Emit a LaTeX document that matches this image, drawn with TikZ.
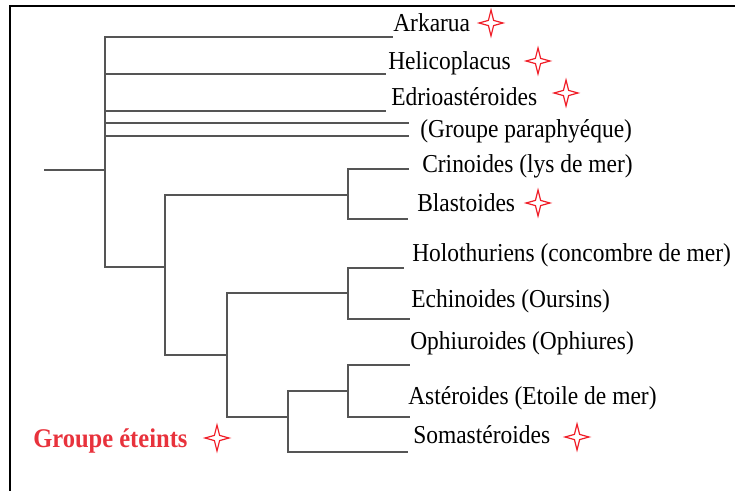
\documentclass[tikz,border=0pt]{standalone}
\usepackage{fontspec}
\usepackage{graphicx}
\setmainfont{Liberation Serif}
\definecolor{branch}{RGB}{85,85,85}
\definecolor{starred}{RGB}{240,30,40}
\definecolor{grpred}{RGB}{232,50,60}
\newcommand{\tallt}[1]{\scalebox{1}[1.1]{#1}}
\begin{document}
\begin{tikzpicture}[x=0.75pt,y=-0.75pt,
  br/.style={draw=branch,line width=1.5pt,line cap=rect},
  lbl/.style={anchor=base west,inner sep=0pt,font=\fontsize{17.6}{20}\selectfont},
  xstar/.pic={\draw[starred,line width=0.9pt,line join=miter]
     (0,-13) -- (2.6,-2.6) -- (12,0) -- (2.6,2.6) -- (0,13) -- (-2.6,2.6) -- (-12,0) -- (-2.6,-2.6) -- cycle;}]
\useasboundingbox (0,0) rectangle (735,491);
% frame
\draw[black,line width=2.2pt] (10,491) -- (10,6) -- (735,6);
% junctions
\coordinate (root) at (45,170);
\coordinate (r0) at (105,170);
\coordinate (rt) at (105,37);
\coordinate (rb) at (105,267);
\coordinate (h1) at (105,74);
\coordinate (h2) at (105,111);
\coordinate (h3) at (105,123);
\coordinate (h4) at (105,136);
\coordinate (aT) at (165,267);
\coordinate (aTop) at (165,195);
\coordinate (aBot) at (165,355);
\coordinate (cb) at (348,195);
\coordinate (cbT) at (348,169);
\coordinate (cbB) at (348,219);
\coordinate (eA) at (227,355);
\coordinate (eTop) at (227,293);
\coordinate (eBot) at (227,417);
\coordinate (he) at (348,293);
\coordinate (heT) at (348,268);
\coordinate (heB) at (348,319);
\coordinate (oA) at (288,417);
\coordinate (oTop) at (288,391);
\coordinate (oBot) at (288,452);
\coordinate (oa) at (348,391);
\coordinate (oaT) at (348,365);
\coordinate (oaB) at (348,417);
% leaf ends
\coordinate (lArk) at (392,37);
\coordinate (lHel) at (385,74);
\coordinate (lEdr) at (385,111);
\coordinate (lP1) at (408,123);
\coordinate (lP2) at (408,136);
\coordinate (lCri) at (408,169);
\coordinate (lBla) at (407,219);
\coordinate (lHol) at (403,268);
\coordinate (lEch) at (409,319);
\coordinate (lOph) at (409,365);
\coordinate (lAst) at (409,417);
\coordinate (lSom) at (407,452);
% branches
\draw[br] (root) -- (r0);
\draw[br] (rt) -- (rb);
\draw[br] (rt) -- (lArk);
\draw[br] (h1) -- (lHel);
\draw[br] (h2) -- (lEdr);
\draw[br] (h3) -- (lP1);
\draw[br] (h4) -- (lP2);
\draw[br] (rb) -- (aT);
\draw[br] (aTop) -- (aBot);
\draw[br] (aTop) -- (cb);
\draw[br] (cbT) -- (cbB);
\draw[br] (cbT) -- (lCri);
\draw[br] (cbB) -- (lBla);
\draw[br] (aBot) -- (eA);
\draw[br] (eTop) -- (eBot);
\draw[br] (eTop) -- (he);
\draw[br] (heT) -- (heB);
\draw[br] (heT) -- (lHol);
\draw[br] (heB) -- (lEch);
\draw[br] (eBot) -- (oA);
\draw[br] (oTop) -- (oBot);
\draw[br] (oTop) -- (oa);
\draw[br] (oaT) -- (oaB);
\draw[br] (oaT) -- (lOph);
\draw[br] (oaB) -- (lAst);
\draw[br] (oBot) -- (lSom);
% labels
\node[lbl] (tArk) at (393,32) {\tallt{Arkarua}};
\node[lbl] (tHel) at (388,70) {\tallt{Helicoplacus}};
\node[lbl] (tEdr) at (391,106) {\tallt{Edrioastéroides}};
\node[lbl] (tPar) at (420,138) {\tallt{(Groupe paraphyéque)}};
\node[lbl] (tCri) at (422,173) {\tallt{Crinoides (lys de mer)}};
\node[lbl] (tBla) at (417,212) {\tallt{Blastoides}};
\node[lbl] (tHol) at (412,262) {\tallt{Holothuriens (concombre de mer)}};
\node[lbl] (tEch) at (411,308) {\tallt{Echinoides (Oursins)}};
\node[lbl] (tOph) at (410,350) {\tallt{Ophiuroides (Ophiures)}};
\node[lbl] (tAst) at (408,404) {\tallt{Astéroides (Etoile de mer)}};
\node[lbl] (tSom) at (413,443) {\tallt{Somastéroides}};
\node[lbl,text=grpred,font=\fontsize{18.4}{20}\selectfont\bfseries] (tGrp) at (33,447) {\tallt{Groupe éteints}};
% stars
\pic at (491,23) {xstar};
\pic at (538,61) {xstar};
\pic at (566,93) {xstar};
\pic at (538,203) {xstar};
\pic at (577,437) {xstar};
\pic at (217,438) {xstar};
\end{tikzpicture}
\end{document}
